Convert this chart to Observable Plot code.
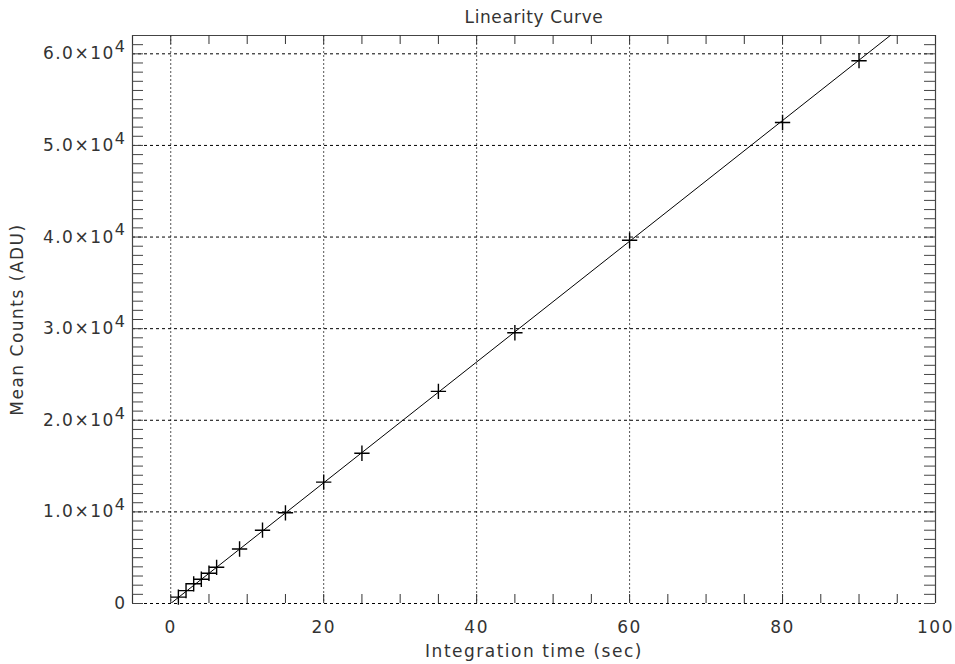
<!DOCTYPE html>
<html>
<head>
<meta charset="utf-8">
<script src="https://cdn.jsdelivr.net/npm/d3@7"></script>
<script src="https://cdn.jsdelivr.net/npm/@observablehq/plot@0.6"></script>
<style>
  body { margin: 0; background: #fff; }
  svg { font-family: "DejaVu Sans", sans-serif; }
  svg text { letter-spacing: 1.5px; }
</style>
</head>
<body>
<div id="chart"></div>
<script>
// Integration times (sec) and mean counts (ADU)
const times = [1, 2, 3, 4, 5, 6, 9, 12, 15, 20, 25, 35, 45, 60, 80, 90];
const counts = [700, 1400, 2150, 2650, 3300, 3950, 5950, 8000, 9900, 13250, 16400, 23150, 29550, 39650, 52500, 59250];

// Linear fit
const fitSlope = [659];
const fitIntercept = [0];
const fitX = [0, 100];

// Axes
const xDomain = [-5, 100];
const yDomain = [0, 62000];
const xMajor = [0, 20, 40, 60, 80, 100];
const xMinor = d3.range(-5, 100.1, 5);
const yMajor = [0, 10000, 20000, 30000, 40000, 50000, 60000];
const yMinor = d3.range(0, 62001, 1000);
const xGrid = [0, 20, 40, 60, 80];
const yGrid = [0, 10000, 20000, 30000, 40000, 50000, 60000];

const title = "Linearity Curve";
const xLabel = "Integration time (sec)";
const yLabel = "Mean Counts (ADU)";

const points = times.map((t, i) => ({t, c: counts[i]}));
const fit = fitX.map(x => ({x, y: fitSlope[0] * x + fitIntercept[0]}));

const W = 955, H = 664, mL = 132, mR = 20, mT = 35, mB = 61;
const pw = W - mL - mR, ph = H - mT - mB;
const textColor = "#333";

const chart = Plot.plot({
  width: W, height: H,
  marginLeft: mL, marginRight: mR, marginTop: mT, marginBottom: mB,
  x: {domain: xDomain},
  y: {domain: yDomain},
  style: {fontFamily: "DejaVu Sans, sans-serif", fontSize: "17px", color: textColor},
  marks: [
    // grid
    Plot.ruleX(xGrid, {x: d => d, stroke: "#555", strokeDasharray: "2,2", strokeWidth: 1}),
    Plot.ruleY(yGrid, {y: d => d, stroke: "#000", strokeDasharray: "3,3", strokeWidth: 1}),
    // frame (left, right, top solid; bottom is the dotted zero grid)
    Plot.ruleX(xDomain, {x: d => d, stroke: "#444", strokeWidth: 1.2}),
    Plot.ruleY([yDomain[1]], {y: d => d, stroke: "#444", strokeWidth: 1.2}),
    // inward ticks
    Plot.ruleX(xMinor, {x: d => d, insetTop: ph - 9, stroke: "#333"}),
    Plot.ruleX(xMinor, {x: d => d, insetBottom: ph - 9, stroke: "#333"}),
    Plot.ruleY(yMinor, {y: d => d, insetRight: pw - 11, stroke: "#444"}),
    Plot.ruleY(yMinor, {y: d => d, insetLeft: pw - 11, stroke: "#444"}),
    // tick labels
    Plot.axisX(xMajor, {anchor: "bottom", tickSize: 0, tickPadding: 17, fontSize: 17, fill: textColor, tickFormat: d => String(d)}),
    Plot.axisY(yMajor, {anchor: "left", tickSize: 0, tickPadding: 6, fontSize: 17, fill: textColor,
      tickFormat: d => d === 0 ? "0" : (d / 1e4).toFixed(1) + "×10^4"}),
    // fit line
    Plot.line(fit, {x: "x", y: "y", stroke: "#000", strokeWidth: 1, clip: true}),
    // data
    Plot.dot(points, {x: "t", y: "c", symbol: "plus", r: 5, stroke: "#000", strokeWidth: 1.4}),
    // titles
    Plot.text([title], {frameAnchor: "top", dy: -18, fontSize: 17, lineAnchor: "middle", textAnchor: "middle", fill: textColor}),
    Plot.text([xLabel], {frameAnchor: "bottom", dy: 48, fontSize: 17, lineAnchor: "middle", textAnchor: "middle", fill: textColor}),
    Plot.text([yLabel], {frameAnchor: "left", rotate: -90, dx: -115, fontSize: 17, lineAnchor: "middle", textAnchor: "middle", fill: textColor})
  ]
});

// render exponents as raised text
d3.select(chart).selectAll("text").each(function() {
  const el = d3.select(this);
  const s = el.text();
  const m = s.match(/^(.*)\^(\d+)$/);
  if (m) {
    el.text("");
    el.append("tspan").text(m[1]);
    el.append("tspan").attr("dy", "-0.45em").attr("font-size", "16px").text(m[2]);
  }
  if (s === title) el.style("letter-spacing", "0.6px");
});

document.getElementById("chart").appendChild(chart);
</script>
</body>
</html>
